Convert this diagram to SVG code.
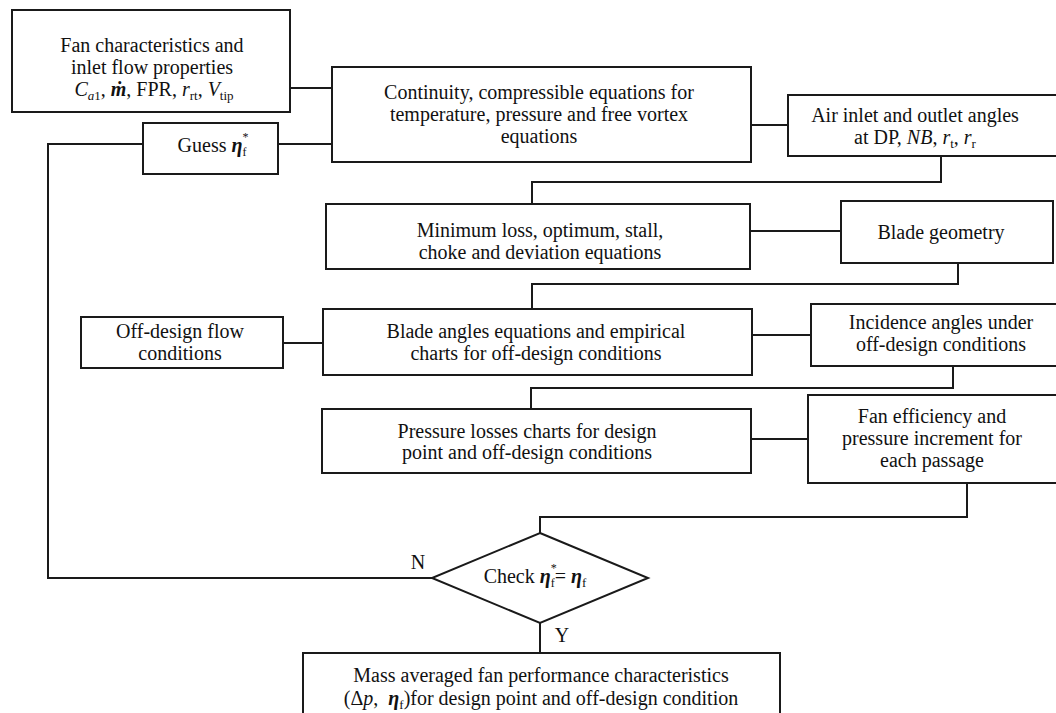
<svg xmlns="http://www.w3.org/2000/svg" width="1056" height="713" viewBox="0 0 1056 713">
<style>
  .box{fill:#fff;stroke:#1a1a1a;stroke-width:2}
  .ln{fill:none;stroke:#1a1a1a;stroke-width:2}
  text{font-family:"Liberation Serif","Times New Roman",serif;font-size:20px;fill:#111;text-anchor:middle}
  .i{font-style:italic}
  .s{font-size:13px}
  .ss{font-size:12px}
</style>
<rect width="1056" height="713" fill="#fff"/>
<g id="connectors">
  <polyline class="ln" points="290,88 332,88"/>
  <polyline class="ln" points="278,144 332,144"/>
  <polyline class="ln" points="751,125 788,125"/>
  <polyline class="ln" points="941,156 941,182 532,182 532,204"/>
  <polyline class="ln" points="750,231 841,231"/>
  <polyline class="ln" points="958,263 958,284 532,284 532,309"/>
  <polyline class="ln" points="283,343 323,343"/>
  <polyline class="ln" points="752,335 811,335"/>
  <polyline class="ln" points="953,366 953,388 531,388 531,409"/>
  <polyline class="ln" points="751,439 808,439"/>
  <polyline class="ln" points="967,483 967,517 540,517 540,533"/>
  <polyline class="ln" points="432,578 48,578 48,144 143,144"/>
  <polyline class="ln" points="540,623 540,653"/>
</g>
<g id="fan-characteristics">
  <rect class="box" x="12" y="10" width="278" height="102"/>
  <text x="152" y="52">Fan characteristics and</text>
  <text x="152" y="74">inlet flow properties</text>
  <text x="154" y="96"><tspan class="i">C</tspan><tspan class="s" dy="4"><tspan class="i">a</tspan>1</tspan><tspan dy="-4">, </tspan><tspan class="i" font-weight="bold">ṁ</tspan>, FPR, <tspan class="i">r</tspan><tspan class="s" dy="4">rt</tspan><tspan dy="-4">, </tspan><tspan class="i">V</tspan><tspan class="s" dy="4">tip</tspan></text>
</g>
<g id="guess">
  <rect class="box" x="143" y="123" width="135" height="51"/>
  <text x="213" y="152">Guess <tspan class="i" font-weight="bold">η</tspan><tspan class="ss" dy="-11">*</tspan><tspan class="ss" dx="-6" dy="15">f</tspan></text>
</g>
<g id="continuity">
  <rect class="box" x="332" y="67" width="419" height="95"/>
  <text x="539" y="99">Continuity, compressible equations for</text>
  <text x="539" y="121">temperature, pressure and free vortex</text>
  <text x="539" y="143">equations</text>
</g>
<g id="air-angles">
  <rect class="box" x="788" y="95" width="280" height="61"/>
  <text x="915" y="122">Air inlet and outlet angles</text>
  <text x="915" y="144">at DP, <tspan class="i">NB</tspan>, <tspan class="i">r</tspan><tspan class="s" dy="4">t</tspan><tspan dy="-4">, </tspan><tspan class="i">r</tspan><tspan class="s" dy="4">r</tspan></text>
</g>
<g id="minimum-loss">
  <rect class="box" x="326" y="204" width="424" height="65"/>
  <text x="540" y="237">Minimum loss, optimum, stall,</text>
  <text x="540" y="259">choke and deviation equations</text>
</g>
<g id="blade-geometry">
  <rect class="box" x="841" y="201" width="212" height="62"/>
  <text x="941" y="239">Blade geometry</text>
</g>
<g id="off-design-flow">
  <rect class="box" x="81" y="317" width="202" height="51"/>
  <text x="180" y="338">Off-design flow</text>
  <text x="180" y="360">conditions</text>
</g>
<g id="blade-angles">
  <rect class="box" x="323" y="309" width="429" height="66"/>
  <text x="536" y="338">Blade angles equations and empirical</text>
  <text x="536" y="360">charts for off-design conditions</text>
</g>
<g id="incidence">
  <rect class="box" x="811" y="304" width="257" height="62"/>
  <text x="941" y="329">Incidence angles under</text>
  <text x="941" y="351">off-design conditions</text>
</g>
<g id="pressure-losses">
  <rect class="box" x="322" y="409" width="429" height="64"/>
  <text x="527" y="438">Pressure losses charts for design</text>
  <text x="527" y="459">point and off-design conditions</text>
</g>
<g id="fan-efficiency">
  <rect class="box" x="808" y="395" width="260" height="88"/>
  <text x="932" y="423">Fan efficiency and</text>
  <text x="932" y="445">pressure increment for</text>
  <text x="932" y="467">each passage</text>
</g>
<g id="check">
  <polygon class="box" points="540,533 648,578 540,623 432,578"/>
  <text x="535" y="583">Check <tspan class="i" font-weight="bold">η</tspan><tspan class="ss" dy="-11">*</tspan><tspan class="ss" dx="-6" dy="15">f</tspan><tspan dy="-4">= </tspan><tspan class="i" font-weight="bold">η</tspan><tspan class="s" dy="4">f</tspan></text>
  <text x="418" y="569">N</text>
  <text x="562" y="642">Y</text>
</g>
<g id="mass-averaged">
  <rect class="box" x="303" y="653" width="477" height="80"/>
  <text x="541" y="682">Mass averaged fan performance characteristics</text>
  <text x="541" y="705">(Δ<tspan class="i">p</tspan>, &#160;<tspan class="i" font-weight="bold">η</tspan><tspan class="s" dy="4">f</tspan><tspan dy="-4">)for design point and off-design condition</tspan></text>
</g>
</svg>
